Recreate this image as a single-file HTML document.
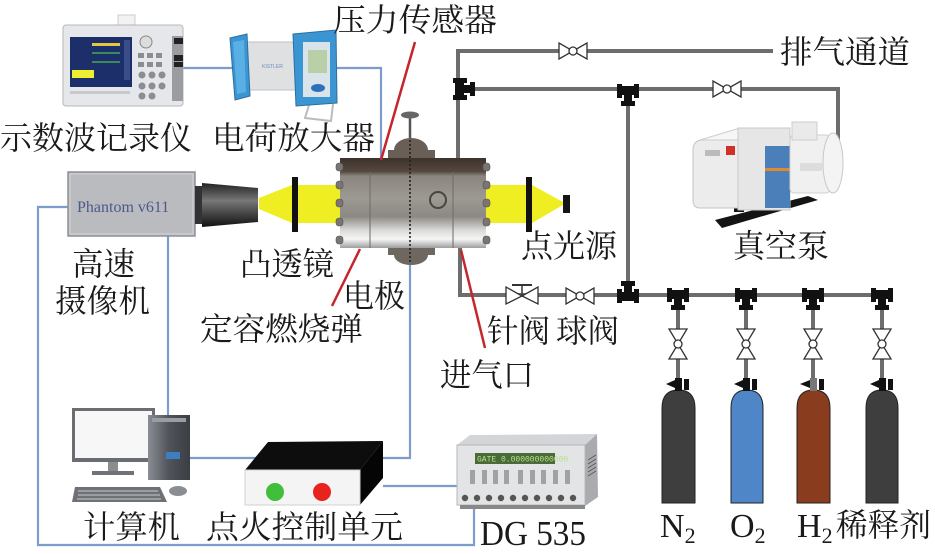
<!DOCTYPE html>
<html><head><meta charset="utf-8"><style>
html,body{margin:0;padding:0;background:#fff;}
svg{display:block;}
.cn{font-family:"Liberation Serif","Noto Serif CJK SC",serif;font-size:32px;fill:#1a1a1a;}
.lat{font-family:"Liberation Serif",serif;fill:#1a1a1a;}
</style></head><body>
<svg width="935" height="554" viewBox="0 0 935 554" xmlns="http://www.w3.org/2000/svg">
<defs>
<linearGradient id="ch" x1="0" y1="0" x2="0" y2="1">
<stop offset="0" stop-color="#3d322c"/>
<stop offset="0.15" stop-color="#55483f"/>
<stop offset="0.2" stop-color="#8a857f"/>
<stop offset="0.45" stop-color="#9d9993"/>
<stop offset="0.65" stop-color="#8c8984"/>
<stop offset="0.8" stop-color="#d9d9d7"/>
<stop offset="0.9" stop-color="#f6f6f6"/>
<stop offset="1" stop-color="#9e9e9e"/>
</linearGradient>
<linearGradient id="lens" x1="0" y1="0" x2="0" y2="1">
<stop offset="0" stop-color="#222"/><stop offset="0.4" stop-color="#777"/><stop offset="0.6" stop-color="#555"/><stop offset="1" stop-color="#111"/>
</linearGradient>
<linearGradient id="tower" x1="0" y1="0" x2="1" y2="0">
<stop offset="0" stop-color="#8a8d92"/><stop offset="0.5" stop-color="#50545a"/><stop offset="1" stop-color="#3a3d42"/>
</linearGradient>
<g id="hv">
<polygon points="-14,-8 -14,8 0,0" fill="#fff" stroke="#333" stroke-width="1.3"/>
<polygon points="14,-8 14,8 0,0" fill="#fff" stroke="#333" stroke-width="1.3"/>
<circle r="4" fill="#fff" stroke="#333" stroke-width="1.3"/>
</g>
<g id="vv">
<polygon points="-9,-15 9,-15 0,0" fill="#fff" stroke="#333" stroke-width="1.3"/>
<polygon points="-9,15 9,15 0,0" fill="#fff" stroke="#333" stroke-width="1.3"/>
<circle r="4" fill="#fff" stroke="#333" stroke-width="1.3"/>
</g>
<g id="tdown" fill="#111">
<rect x="-11" y="-7" width="5" height="14"/>
<rect x="6" y="-7" width="5" height="14"/>
<rect x="-7" y="-5" width="14" height="9"/>
<rect x="-4" y="2" width="8" height="10"/>
<rect x="-7" y="10" width="14" height="5"/>
</g>
<g id="tup" fill="#111">
<rect x="-11" y="-7" width="5" height="14"/>
<rect x="6" y="-7" width="5" height="14"/>
<rect x="-7" y="-4" width="14" height="9"/>
<rect x="-4" y="-12" width="8" height="10"/>
<rect x="-7" y="-15" width="14" height="5"/>
</g>
<g id="tleft" fill="#111">
<rect x="-7" y="-11" width="14" height="5"/>
<rect x="-7" y="6" width="14" height="5"/>
<rect x="-5" y="-7" width="9" height="14"/>
<rect x="2" y="-4" width="10" height="8"/>
<rect x="10" y="-7" width="5" height="14"/>
</g>
</defs>

<!-- ===== Blue signal lines ===== -->
<g stroke="#7c9ccb" stroke-width="2.2" fill="none">
<polyline points="183,68 232,68"/>
<polyline points="333,68 381,68 381,160"/>
<polyline points="72,207 38,207 38,545 474,545 474,498"/>
<polyline points="168,235 168,415"/>
<polyline points="190,458 410,458 410,262"/>
<polyline points="383,486 470,486"/>
</g>

<!-- ===== Gas pipes ===== -->
<g stroke="#6d6d6d" stroke-width="4" fill="none">
<polyline points="773,51 458,51 458,160"/>
<polyline points="458,89 838,89 838,140"/>
<polyline points="628,89 628,295"/>
<polyline points="460,248 460,295 893,295"/>
<line x1="678" y1="295" x2="678" y2="385"/>
<line x1="746" y1="295" x2="746" y2="385"/>
<line x1="813" y1="295" x2="813" y2="385"/>
<line x1="882" y1="295" x2="882" y2="385"/>
</g>
<use href="#hv" x="573" y="51"/>
<use href="#hv" x="727" y="89"/>
<use href="#hv" x="580" y="296"/>
<!-- needle valve -->
<g>
<polygon points="506,287 506,304 522,296" fill="#fff" stroke="#333" stroke-width="1.3"/>
<polygon points="538,287 538,304 522,296" fill="#fff" stroke="#333" stroke-width="1.3"/>
<line x1="522" y1="296" x2="522" y2="285" stroke="#333" stroke-width="1.5"/>
<line x1="512" y1="285" x2="532" y2="285" stroke="#333" stroke-width="2"/>
</g>
<use href="#tleft" x="460" y="89"/>
<use href="#tdown" x="628" y="91"/>
<use href="#tup" x="628" y="296"/>
<use href="#tdown" x="678" y="295"/>
<use href="#tdown" x="746" y="295"/>
<use href="#tdown" x="813" y="295"/>
<use href="#tdown" x="882" y="295"/>
<use href="#vv" x="678" y="344"/>
<use href="#vv" x="746" y="344"/>
<use href="#vv" x="813" y="344"/>
<use href="#vv" x="882" y="344"/>

<!-- cylinders -->
<g stroke="#222" stroke-width="1">
<path d="M662,503 V408 Q662,390 678.5,390 Q695,390 695,408 V503 Z" fill="#3e3e3e"/>
<path d="M731,503 V408 Q731,390 747,390 Q763,390 763,408 V503 Z" fill="#4e86c7"/>
<path d="M797,503 V408 Q797,390 813.5,390 Q830,390 830,408 V503 Z" fill="#8a3c1f"/>
<path d="M866,503 V408 Q866,390 882,390 Q898,390 898,408 V503 Z" fill="#3e3e3e"/>
</g>
<g fill="#111">
<rect x="675" y="378" width="7" height="13"/><rect x="684" y="379" width="5" height="11"/><polygon points="666,384 675,380 675,388"/>
<rect x="743" y="378" width="7" height="13"/><rect x="752" y="379" width="5" height="11"/><polygon points="734,384 743,380 743,388"/>
<rect x="810" y="378" width="7" height="13" fill="#777"/><rect x="819" y="379" width="5" height="11"/><polygon points="800,384 810,380 810,388"/>
<rect x="879" y="378" width="7" height="13"/><rect x="888" y="379" width="5" height="11"/><polygon points="870,384 879,380 879,388"/>
</g>

<!-- ===== Yellow beams ===== -->
<g fill="#eeee22">
<polygon points="259,198 259,209 292,223 292,185"/>
<rect x="298" y="185" width="45" height="38"/>
<rect x="482" y="185" width="44" height="38"/>
<polygon points="532,185 532,223 563,205 563,202"/>
</g>

<!-- ===== Camera ===== -->
<rect x="68" y="172" width="127" height="64" fill="#b9bbbf" stroke="#8d9095" stroke-width="1.5"/>
<rect x="70" y="174" width="123" height="60" fill="none" stroke="#d4d6d9" stroke-width="1"/>
<text x="77" y="212" class="lat" font-size="16" fill="#4a5a8c" style="fill:#4a5a8c">Phantom v611</text>
<rect x="195" y="186" width="7" height="38" fill="#333"/>
<polygon points="202,183 258,188 258,222 202,227" fill="url(#lens)"/>
<rect x="292" y="177" width="6" height="55" fill="#111"/>
<rect x="526" y="177" width="6" height="55" fill="#111"/>
<rect x="563" y="195" width="7" height="18" fill="#151515"/>

<!-- ===== Chamber ===== -->
<line x1="410" y1="115" x2="410" y2="140" stroke="#555" stroke-width="2.5"/>
<ellipse cx="410" cy="115" rx="9" ry="3.5" fill="#666"/>
<path d="M388,160 V150 H394 A17,12 0 0 1 428,150 H435 V160 Z" fill="#6a5f56"/>
<path d="M388,248 V255 H394 A17,10 0 0 0 428,255 H435 V248 Z" fill="#6d6760"/>
<rect x="340" y="158" width="146" height="90" fill="url(#ch)"/>
<g fill="#7a7570" stroke="#555" stroke-width="0.6">
<rect x="336" y="163" width="7" height="8" rx="3"/>
<rect x="336" y="181" width="7" height="8" rx="3"/>
<rect x="336" y="199" width="7" height="8" rx="3"/>
<rect x="336" y="218" width="7" height="8" rx="3"/>
<rect x="336" y="236" width="7" height="8" rx="3"/>
<rect x="483" y="163" width="7" height="8" rx="3"/>
<rect x="483" y="181" width="7" height="8" rx="3"/>
<rect x="483" y="199" width="7" height="8" rx="3"/>
<rect x="483" y="218" width="7" height="8" rx="3"/>
<rect x="483" y="236" width="7" height="8" rx="3"/>
</g>
<line x1="370" y1="172" x2="370" y2="248" stroke="#6f6a66" stroke-width="1"/>
<line x1="453" y1="172" x2="453" y2="248" stroke="#6f6a66" stroke-width="1"/>
<circle cx="438" cy="200" r="8" fill="none" stroke="#4b4540" stroke-width="2"/>
<line x1="410" y1="140" x2="410" y2="263" stroke="#222" stroke-width="1.6" stroke-dasharray="2,2"/>

<!-- ===== Red leader lines ===== -->
<g stroke="#c4262c" stroke-width="2.5">
<line x1="415" y1="42" x2="381" y2="160"/>
<line x1="360" y1="249" x2="332" y2="306"/>
<line x1="461" y1="250" x2="485" y2="348"/>
</g>

<!-- ===== Oscilloscope ===== -->
<rect x="118" y="15" width="17" height="11" fill="#f2f2f2" stroke="#ccc"/>
<rect x="63" y="25" width="120" height="81" rx="3" fill="#e6e7ea" stroke="#b5b7bb"/>
<rect x="70" y="37" width="62" height="50" fill="#1d2f6b"/>
<rect x="92" y="43" width="28" height="3" fill="#e6c640"/>
<rect x="92" y="52" width="28" height="2" fill="#3a8a5a"/>
<rect x="92" y="61" width="28" height="2" fill="#3a8a5a"/>
<rect x="72" y="70" width="22" height="8" fill="#f0ee30"/>
<rect x="124" y="40" width="6" height="40" fill="#3a4f8a"/>
<circle cx="146" cy="42" r="6" fill="#ddd" stroke="#888"/>
<g fill="#8a8d92">
<rect x="138" y="53" width="6" height="5"/><rect x="147" y="53" width="6" height="5"/><rect x="156" y="53" width="6" height="5"/>
<rect x="138" y="62" width="6" height="5"/><rect x="147" y="62" width="6" height="5"/><rect x="156" y="62" width="6" height="5"/>
<circle cx="142" cy="75" r="3.5"/><circle cx="152" cy="75" r="3.5"/><circle cx="162" cy="75" r="3.5"/>
<circle cx="142" cy="86" r="3.5"/><circle cx="152" cy="86" r="3.5"/><circle cx="162" cy="86" r="3.5"/>
<circle cx="142" cy="96" r="3.5"/><circle cx="152" cy="96" r="3.5"/>
</g>
<rect x="172" y="36" width="11" height="65" fill="#9a9ca0"/>
<rect x="174" y="38" width="9" height="6" fill="#222"/><rect x="174" y="55" width="9" height="6" fill="#222"/><rect x="174" y="62" width="9" height="5" fill="#222"/>
<rect x="70" y="91" width="60" height="3" fill="#c8c9cc"/>

<!-- ===== Charge amplifier ===== -->
<rect x="245" y="42" width="55" height="48" fill="#dfe0e2" stroke="#c0c2c5"/>
<polygon points="230,38 247,34 250,96 235,100" fill="#3b95d2" stroke="#2b6fa0"/>
<polygon points="233,42 244,40 246,92 237,94" fill="#5ab0e4"/>
<path d="M310,102 L305,118 L331,121 L333,104" fill="none" stroke="#bbb" stroke-width="2"/>
<polygon points="293,34 336,30 337,103 296,106" fill="#3b95d2" stroke="#2b6fa0"/>
<rect x="303" y="42" width="27" height="55" fill="#d8e4ea"/>
<rect x="308" y="50" width="19" height="23" fill="#b9cfa8"/>
<ellipse cx="318" cy="88" rx="7" ry="4" fill="#2d72b8"/>
<text x="262" y="68" font-family="Liberation Sans, sans-serif" font-size="5" fill="#6a8fb8">KISTLER</text>

<!-- ===== Vacuum pump ===== -->
<polygon points="715,220 808,196 818,200 722,228" fill="#141414"/>
<rect x="734" y="202" width="10" height="10" fill="#111"/>
<path d="M693,150 Q693,140 703,140 H765 V208 H700 Q693,208 693,200 Z" fill="#ececec" stroke="#c4c4c4"/>
<polygon points="700,140 740,128 775,128 765,140" fill="#f6f6f6" stroke="#ccc"/>
<rect x="726" y="146" width="9" height="9" fill="#d03028"/>
<rect x="705" y="150" width="15" height="6" fill="#bbb"/>
<rect x="738" y="128" width="52" height="82" fill="#e6e6e6" stroke="#c8c8c8"/>
<rect x="765" y="146" width="25" height="62" fill="#4a7fba"/>
<rect x="765" y="168" width="25" height="3" fill="#e08a30"/>
<rect x="790" y="135" width="40" height="58" rx="4" fill="#f0f0f0" stroke="#cfcfcf"/>
<ellipse cx="833" cy="163" rx="10" ry="30" fill="#f4f4f4" stroke="#c8c8c8"/>
<rect x="792" y="122" width="25" height="18" fill="#eaeaea" stroke="#cfcfcf"/>
<rect x="800" y="163" width="22" height="8" fill="#ddd"/>

<!-- ===== Computer ===== -->
<rect x="72" y="408" width="83" height="54" fill="#6a6d72"/>
<rect x="75" y="411" width="77" height="47" fill="#f7f7f7"/>
<rect x="108" y="462" width="10" height="10" fill="#8a8c90"/>
<rect x="92" y="471" width="42" height="4" fill="#6f7276"/>
<rect x="148" y="415" width="42" height="65" fill="url(#tower)"/>
<rect x="152" y="418" width="34" height="4" fill="#9a9da2"/>
<rect x="166" y="452" width="14" height="7" fill="#3c7fc0"/>
<polygon points="75,487 160,487 167,502 72,502" fill="#6e7176"/>
<g fill="#9a9da2"><rect x="78" y="490" width="80" height="2"/><rect x="78" y="494" width="82" height="2"/><rect x="77" y="498" width="84" height="2"/></g>
<ellipse cx="178" cy="491" rx="9" ry="5" fill="#8a8d91"/>

<!-- ===== Ignition control unit ===== -->
<polygon points="245,470 268,442 383,441 360,470" fill="#0d0d0d"/>
<polygon points="360,470 383,441 383,478 360,505" fill="#050505"/>
<rect x="245" y="470" width="115" height="35" fill="#f4f4f4" stroke="#d0d0d0"/>
<circle cx="275" cy="492" r="9" fill="#3fbf3a"/>
<circle cx="322" cy="492" r="9" fill="#e8221c"/>

<!-- ===== DG535 ===== -->
<polygon points="457,445 470,435 597,434 585,445" fill="#d4d5d8"/>
<polygon points="585,445 597,434 598,497 585,506" fill="#a9abaf"/>
<g stroke="#555" stroke-width="0.8"><line x1="588" y1="460" x2="596" y2="455"/><line x1="588" y1="464" x2="596" y2="459"/><line x1="588" y1="468" x2="596" y2="463"/><line x1="588" y1="472" x2="596" y2="467"/><line x1="588" y1="476" x2="596" y2="471"/></g>
<rect x="457" y="445" width="128" height="60" fill="#e3e4e6" stroke="#b5b7ba"/>
<rect x="475" y="453" width="80" height="11" fill="#4b6a3a"/>
<text x="477" y="461.5" font-family="Liberation Mono, monospace" font-size="8" fill="#b9e08a">GATE 0.000000000000</text>
<g fill="#a0a2a6">
<rect x="470" y="470" width="5" height="14"/><rect x="482" y="470" width="5" height="14"/><rect x="493" y="470" width="5" height="14"/><rect x="504" y="470" width="5" height="14"/>
<rect x="518" y="470" width="5" height="14"/><rect x="530" y="470" width="5" height="14"/><rect x="541" y="470" width="5" height="14"/><rect x="553" y="470" width="5" height="14"/><rect x="565" y="470" width="5" height="14"/>
</g>
<g fill="#555">
<circle cx="465" cy="498" r="3.2"/><circle cx="477" cy="498" r="3.2"/><circle cx="489" cy="498" r="3.2"/><circle cx="501" cy="498" r="3.2"/><circle cx="513" cy="498" r="3.2"/><circle cx="525" cy="498" r="3.2"/><circle cx="537" cy="498" r="3.2"/><circle cx="549" cy="498" r="3.2"/><circle cx="561" cy="498" r="3.2"/><circle cx="573" cy="498" r="3.2"/>
</g>
<rect x="460" y="505" width="125" height="4" fill="#888"/>

<!-- ===== Labels ===== -->
<text x="333" y="31" class="cn" textLength="164" lengthAdjust="spacingAndGlyphs">压力传感器</text>
<text x="0" y="149" class="cn" textLength="192" lengthAdjust="spacingAndGlyphs">示数波记录仪</text>
<text x="212" y="149" class="cn" textLength="163" lengthAdjust="spacingAndGlyphs">电荷放大器</text>
<text x="780" y="63" class="cn" textLength="130" lengthAdjust="spacingAndGlyphs">排气通道</text>
<text x="72" y="275" class="cn" textLength="63" lengthAdjust="spacingAndGlyphs">高速</text>
<text x="55" y="312" class="cn" textLength="95" lengthAdjust="spacingAndGlyphs">摄像机</text>
<text x="240" y="275" class="cn" textLength="94" lengthAdjust="spacingAndGlyphs">凸透镜</text>
<text x="343" y="307" class="cn" textLength="62" lengthAdjust="spacingAndGlyphs">电极</text>
<text x="200" y="340" class="cn" textLength="163" lengthAdjust="spacingAndGlyphs">定容燃烧弹</text>
<text x="521" y="257" class="cn" textLength="96" lengthAdjust="spacingAndGlyphs">点光源</text>
<text x="733" y="257" class="cn" textLength="96" lengthAdjust="spacingAndGlyphs">真空泵</text>
<text x="487" y="342" class="cn" textLength="63" lengthAdjust="spacingAndGlyphs">针阀</text>
<text x="556" y="342" class="cn" textLength="63" lengthAdjust="spacingAndGlyphs">球阀</text>
<text x="440" y="386" class="cn" textLength="94" lengthAdjust="spacingAndGlyphs">进气口</text>
<text x="83" y="538" class="cn" textLength="97" lengthAdjust="spacingAndGlyphs">计算机</text>
<text x="206" y="538" class="cn" textLength="197" lengthAdjust="spacingAndGlyphs">点火控制单元</text>
<text x="480" y="545" class="lat" font-size="35" textLength="106" lengthAdjust="spacingAndGlyphs">DG 535</text>
<text x="660" y="537" class="lat" font-size="34">N<tspan font-size="22" dy="6">2</tspan></text>
<text x="730" y="537" class="lat" font-size="34">O<tspan font-size="22" dy="6">2</tspan></text>
<text x="797" y="537" class="lat" font-size="34">H<tspan font-size="22" dy="6">2</tspan></text>
<text x="836" y="536" class="cn" textLength="95" lengthAdjust="spacingAndGlyphs">稀释剂</text>
</svg>
</body></html>
